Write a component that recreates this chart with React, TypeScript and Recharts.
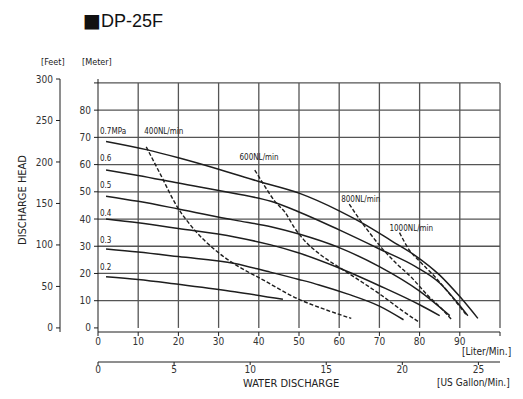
import React from 'react';
import { ComposedChart, Line, XAxis, YAxis, ReferenceLine, ReferenceDot } from 'recharts';

const FONT = "'Liberation Sans Narrow', 'DejaVu Sans Condensed', 'Liberation Sans', sans-serif";
const M_TO_FT = 3.28084;
const L_PER_GAL = 3.785;

// axis ticks
const literTicks = [0, 10, 20, 30, 40, 50, 60, 70, 80, 90, 100];
const gallonTicks = [0, 5, 10, 15, 20, 25];
const meterTicks = [0, 10, 20, 30, 40, 50, 60, 70, 80, 90];
const feetTicks = [0, 50, 100, 150, 200, 250, 300];
const gridRows = [10, 20, 30, 40, 50, 60, 70, 80, 90];
const gridCols = [10, 20, 30, 40, 50, 60, 70, 80, 90, 100];

// air pressure curves [L/min, m]
const mpa07 = [[2, 68.5], [12, 65.5], [20, 62.5], [30, 58.3], [40, 53.8], [50, 49.5], [60, 43], [66, 38.3], [73, 32], [79, 26.5], [85, 19.4], [90, 11.5], [94.5, 3.5]];
const mpa06 = [[2, 58], [10, 56], [20, 53.2], [34, 49.4], [43, 46.5], [50, 42.6], [60, 36], [70, 29], [79, 22.5], [85, 16.5], [89, 10], [92, 4.5]];
const mpa05 = [[2, 48.4], [10, 46.5], [20, 43.7], [34, 39.6], [43, 37.2], [50, 34.5], [60, 29.5], [70, 22.5], [80, 13.5], [87.5, 4.5]];
const mpa04 = [[2, 40], [10, 38.6], [20, 36.5], [34, 33.4], [43, 30.5], [50, 27.5], [60, 22], [70, 15.5], [80, 8.5], [85, 4.5]];
const mpa03 = [[2, 29], [10, 27.9], [20, 26.2], [34, 23.7], [42, 20.8], [50, 17.8], [55, 15.8], [62, 12.5], [70, 8], [76, 3]];
const mpa02 = [[2, 18.8], [10, 17.8], [20, 16], [34, 13.3], [46, 10.5]];

// air consumption curves [L/min, m]
const nl400 = [[12, 66.5], [15.5, 56.5], [19.5, 45], [24, 36], [29, 28.8], [35, 22.5], [40, 18.5], [50, 10.5], [57, 6.5], [63, 3.5]];
const nl600 = [[39, 58], [41.5, 52], [44, 46.5], [46.5, 42.5], [49, 36.5], [51, 32.7], [55.5, 26.7], [60.5, 21.8], [65.5, 17], [70.5, 12], [76, 6], [80, 2]];
const nl800 = [[62.5, 45.5], [65, 40], [67, 36], [70.5, 29.5], [74, 24], [78, 18.5], [82, 12], [85.5, 7], [88, 3]];
const nl1000 = [[75, 35], [77.5, 28.5], [80, 24.5], [84, 18.5], [88, 11.5], [91.5, 5]];

const pressureCurves = [mpa07, mpa06, mpa05, mpa04, mpa03, mpa02];
const airCurves = [nl400, nl600, nl800, nl1000];

const pressureLabels = ['0.7MPa', '0.6', '0.5', '0.4', '0.3', '0.2'];
const pressureLabelY = [72.3, 62.3, 52.3, 42.3, 32.3, 22.3];
const airLabels = ['400NL/min', '600NL/min', '800NL/min', '1000NL/min'];
const airLabelPos = [[11.5, 72.2], [35.2, 62.8], [60.5, 47.3], [72.5, 36.7]];

const toPts = (arr: number[][]) => arr.map(([x, y]) => ({ x, y }));

const INK = '#1e1e1e';
const GRID = '#555';

const tickStyle = { fontSize: 10, fill: '#333', fontFamily: FONT };

const App: React.FC = () => {
  const meterMax = 300 / M_TO_FT;
  const meterMin = -1.5;
  const gallonMax = 100 / L_PER_GAL;

  // invisible series so the secondary axes (feet, gallon) get drawn
  const secondaryAnchor = [
    { x: 0, y: meterMin * M_TO_FT },
    { x: gallonMax, y: 300 },
  ];

  return (
    <div style={{ position: 'absolute', left: 0, top: 0, width: 523, height: 399, background: '#fff', fontFamily: FONT, color: '#222' }}>
      <div style={{ position: 'absolute', left: 83, top: 8, fontSize: 18, lineHeight: '24px', fontFamily: "'Liberation Sans', Arial, sans-serif", color: '#111', whiteSpace: 'nowrap' }}>
        <span style={{ fontFamily: "'DejaVu Sans', sans-serif", fontSize: 19 }}>■</span>DP-25F
      </div>
      <div style={{ position: 'absolute', left: 41, top: 57, fontSize: 9 }}>[Feet]</div>
      <div style={{ position: 'absolute', left: 82, top: 57, fontSize: 9 }}>[Meter]</div>
      <div style={{ position: 'absolute', left: 22, top: 200, fontSize: 11, transform: 'translate(-50%, -50%) rotate(-90deg)', whiteSpace: 'nowrap' }}>
        DISCHARGE HEAD
      </div>
      <div style={{ position: 'absolute', left: 462, top: 346, fontSize: 10 }}>[Liter/Min.]</div>
      <div style={{ position: 'absolute', left: 243, top: 377, fontSize: 11 }}>WATER DISCHARGE</div>
      <div style={{ position: 'absolute', left: 437, top: 377, fontSize: 10 }}>[US Gallon/Min.]</div>

      <ComposedChart width={523} height={399} margin={{ top: 79, right: 23, bottom: 21, left: 0 }}>
        <XAxis
          xAxisId="x1"
          dataKey="x"
          type="number"
          domain={[0, 100]}
          ticks={literTicks}
          tickFormatter={(v: number) => (v === 100 ? '' : String(v))}
          height={30}
          tickSize={4}
          tickMargin={2}
          tick={tickStyle}
          stroke={INK}
          interval={0}
        />
        <XAxis
          xAxisId="x2"
          dataKey="x"
          type="number"
          domain={[0, gallonMax]}
          ticks={gallonTicks}
          height={16}
          tickSize={3}
          tickMargin={1}
          tick={tickStyle}
          stroke={INK}
          interval={0}
        />
        <YAxis
          yAxisId="y1"
          type="number"
          domain={[meterMin, meterMax]}
          ticks={meterTicks}
          tickFormatter={(v: number) => (v === 90 ? '' : String(v))}
          width={38}
          tickSize={4}
          tickMargin={3}
          tick={tickStyle}
          stroke={INK}
          interval={0}
        />
        <YAxis
          yAxisId="y2"
          type="number"
          domain={[meterMin * M_TO_FT, 300]}
          ticks={feetTicks}
          width={60}
          tickSize={4}
          tickMargin={3}
          tick={tickStyle}
          stroke={INK}
          interval={0}
        />

        <Line
          xAxisId="x2"
          yAxisId="y2"
          data={secondaryAnchor}
          dataKey="y"
          stroke="none"
          dot={false}
          activeDot={false}
          legendType="none"
          isAnimationActive={false}
        />

        {gridRows.map((r) => (
          <ReferenceLine key={'r' + r} xAxisId="x1" yAxisId="y1" segment={[{ x: 0, y: r }, { x: 100, y: r }]} stroke={GRID} strokeWidth={1.3} />
        ))}
        {gridCols.map((c) => (
          <ReferenceLine key={'c' + c} xAxisId="x1" yAxisId="y1" segment={[{ x: c, y: 0 }, { x: c, y: 90 }]} stroke={GRID} strokeWidth={1.3} />
        ))}

        {pressureCurves.map((d, i) => (
          <Line
            key={'p' + i}
            xAxisId="x1"
            yAxisId="y1"
            data={toPts(d)}
            dataKey="y"
            type="monotone"
            stroke={INK}
            strokeWidth={1.5}
            dot={false}
            activeDot={false}
            isAnimationActive={false}
          />
        ))}
        {airCurves.map((d, i) => (
          <Line
            key={'a' + i}
            xAxisId="x1"
            yAxisId="y1"
            data={toPts(d)}
            dataKey="y"
            type="monotone"
            stroke={INK}
            strokeWidth={1.4}
            strokeDasharray="4 2"
            dot={false}
            activeDot={false}
            isAnimationActive={false}
          />
        ))}

        {pressureLabels.map((t, i) => (
          <ReferenceDot
            key={'pl' + i}
            xAxisId="x1"
            yAxisId="y1"
            x={0.5}
            y={pressureLabelY[i]}
            r={0}
            fill="none"
            stroke="none"
            label={{ value: t, position: 'right', offset: 0, fontSize: 8, fill: '#222', fontFamily: FONT }}
          />
        ))}
        {airLabels.map((t, i) => (
          <ReferenceDot
            key={'al' + i}
            xAxisId="x1"
            yAxisId="y1"
            x={airLabelPos[i][0]}
            y={airLabelPos[i][1]}
            r={0}
            fill="none"
            stroke="none"
            label={{ value: t, position: 'right', offset: 0, fontSize: 8, fill: '#222', fontFamily: FONT }}
          />
        ))}
      </ComposedChart>
    </div>
  );
};

export default App;
